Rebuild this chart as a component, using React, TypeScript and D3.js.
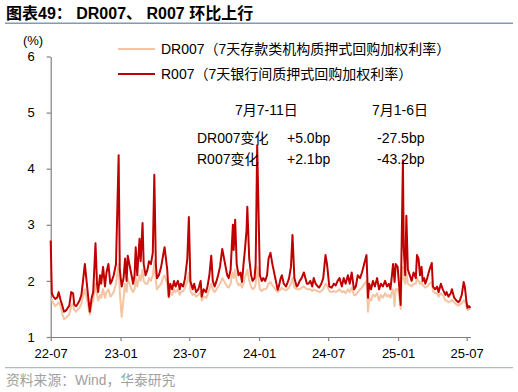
import React, { useEffect, useRef } from 'react';
import * as d3 from 'd3';

// data (%)
const dates = [
  '2022-07-01', '2022-07-04', '2022-07-08', '2022-07-13', '2022-07-18', '2022-07-22', '2022-07-27',
  '2022-08-01', '2022-08-05', '2022-08-10', '2022-08-15', '2022-08-19', '2022-08-24', '2022-08-29',
  '2022-09-01', '2022-09-06', '2022-09-09', '2022-09-15', '2022-09-20', '2022-09-29', '2022-10-08',
  '2022-10-12', '2022-10-17', '2022-10-21', '2022-10-27', '2022-10-31', '2022-11-03', '2022-11-08',
  '2022-11-11', '2022-11-16', '2022-11-21', '2022-11-25', '2022-11-30', '2022-12-05', '2022-12-09',
  '2022-12-14', '2022-12-20', '2022-12-27', '2022-12-30', '2023-01-04', '2023-01-09', '2023-01-13',
  '2023-01-17', '2023-01-20', '2023-01-30', '2023-02-03', '2023-02-07', '2023-02-10', '2023-02-14',
  '2023-02-20', '2023-02-23', '2023-02-28', '2023-03-03', '2023-03-08', '2023-03-13', '2023-03-17',
  '2023-03-22', '2023-03-27', '2023-03-31', '2023-04-04', '2023-04-07', '2023-04-12', '2023-04-18',
  '2023-04-23', '2023-04-27', '2023-05-04', '2023-05-08', '2023-05-12', '2023-05-17', '2023-05-22',
  '2023-05-26', '2023-06-01', '2023-06-06', '2023-06-09', '2023-06-15', '2023-06-20', '2023-06-26',
  '2023-06-30', '2023-07-04', '2023-07-10', '2023-07-14', '2023-07-19', '2023-07-25', '2023-07-31',
  '2023-08-03', '2023-08-08', '2023-08-14', '2023-08-18', '2023-08-23', '2023-08-28', '2023-09-01',
  '2023-09-06', '2023-09-11', '2023-09-15', '2023-09-20', '2023-09-26', '2023-10-09', '2023-10-13',
  '2023-10-18', '2023-10-21', '2023-10-24', '2023-10-26', '2023-10-30', '2023-11-03', '2023-11-08',
  '2023-11-13', '2023-11-17', '2023-11-21', '2023-11-24', '2023-11-29', '2023-12-01', '2023-12-06',
  '2023-12-11', '2023-12-15', '2023-12-20', '2023-12-23', '2023-12-27', '2024-01-03', '2024-01-08',
  '2024-01-12', '2024-01-17', '2024-01-22', '2024-01-26', '2024-01-31', '2024-02-05', '2024-02-19',
  '2024-02-22', '2024-02-27', '2024-03-01', '2024-03-06', '2024-03-12', '2024-03-15', '2024-03-20',
  '2024-03-25', '2024-03-29', '2024-04-03', '2024-04-09', '2024-04-12', '2024-04-17', '2024-04-22',
  '2024-04-28', '2024-05-06', '2024-05-10', '2024-05-15', '2024-05-20', '2024-05-24', '2024-05-29',
  '2024-06-04', '2024-06-07', '2024-06-13', '2024-06-18', '2024-06-24', '2024-06-28', '2024-07-04',
  '2024-07-10', '2024-07-16', '2024-07-21', '2024-07-26', '2024-07-31', '2024-08-06', '2024-08-11',
  '2024-08-16', '2024-08-22', '2024-08-27', '2024-09-01', '2024-09-07', '2024-09-12', '2024-09-17',
  '2024-09-23', '2024-09-28', '2024-10-10', '2024-10-14', '2024-10-17', '2024-10-22', '2024-10-27',
  '2024-11-01', '2024-11-07', '2024-11-12', '2024-11-17', '2024-11-22', '2024-11-28', '2024-12-03',
  '2024-12-08', '2024-12-12', '2024-12-16', '2024-12-19', '2024-12-23', '2024-12-26', '2024-12-31',
  '2025-01-03', '2025-01-08', '2025-01-10', '2025-01-14', '2025-01-16', '2025-01-20', '2025-01-23',
  '2025-01-27', '2025-02-06', '2025-02-11', '2025-02-17', '2025-02-20', '2025-02-24', '2025-02-28',
  '2025-03-04', '2025-03-07', '2025-03-11', '2025-03-14', '2025-03-19', '2025-03-25', '2025-03-31',
  '2025-04-03', '2025-04-09', '2025-04-14', '2025-04-18', '2025-04-24', '2025-04-29', '2025-05-06',
  '2025-05-09', '2025-05-14', '2025-05-20', '2025-05-23', '2025-05-29', '2025-06-04', '2025-06-09',
  '2025-06-13', '2025-06-18', '2025-06-23', '2025-06-26', '2025-06-30', '2025-07-03', '2025-07-07',
  '2025-07-11',
];

const r007 = [
  2.72, 1.78, 1.72, 1.68, 1.70, 1.80, 1.66,
  1.55, 1.45, 1.47, 1.52, 1.56, 1.80, 1.78,
  1.58, 1.55, 1.58, 1.65, 1.75, 2.30, 1.70,
  1.45, 1.70, 1.80, 2.67, 1.95, 1.80, 2.10,
  1.95, 2.25, 1.90, 2.15, 2.30, 1.95, 2.00,
  2.10, 2.30, 4.24, 2.20, 1.90, 2.05, 2.40,
  2.00, 2.45, 2.10, 1.95, 2.10, 2.60, 2.10,
  2.75, 2.35, 3.03, 2.30, 2.10, 2.20, 2.35,
  2.30, 2.50, 3.89, 2.30, 2.05, 2.10, 2.25,
  2.45, 2.60, 2.20, 1.72, 1.95, 1.85, 2.00,
  1.90, 2.00, 1.85, 1.95, 1.90, 2.05, 2.40,
  3.14, 2.00, 1.85, 1.95, 1.80, 1.85, 2.00,
  1.72, 1.85, 1.80, 1.90, 2.10, 2.45, 2.00,
  1.90, 2.00, 2.10, 2.25, 2.57, 2.10, 2.05,
  2.20, 2.60, 3.00, 2.55, 3.09, 2.30, 2.10,
  2.15, 1.98, 2.30, 2.50, 2.90, 3.32, 2.40,
  2.10, 2.00, 2.05, 2.30, 4.42, 2.10, 2.00,
  2.05, 2.00, 2.10, 2.40, 2.50, 2.30, 1.84,
  1.90, 2.05, 2.10, 1.95, 1.90, 1.95, 2.05,
  2.25, 2.82, 2.05, 1.90, 1.92, 2.00, 2.05,
  2.15, 1.95, 1.95, 2.00, 1.90, 2.05, 1.95,
  1.90, 1.88, 1.95, 2.05, 2.46, 2.30, 1.90,
  1.88, 1.95, 1.92, 2.00, 2.05, 1.90, 2.05,
  1.95, 2.10, 1.95, 2.15, 1.85, 1.90, 2.10,
  2.05, 2.15, 2.46, 1.70, 1.95, 1.85, 2.00,
  1.90, 2.05, 1.85, 1.95, 1.90, 2.00, 1.90,
  1.95, 1.85, 2.10, 2.30, 1.98, 2.30, 2.25,
  2.00, 1.57, 2.40, 4.15, 2.60, 2.10, 3.16,
  2.20, 2.00, 2.15, 2.05, 2.46, 2.40, 2.10,
  2.25, 2.00, 2.05, 1.95, 2.05, 2.20, 2.32,
  1.90, 1.85, 1.90, 1.80, 1.95, 1.85, 1.75,
  1.80, 1.72, 1.78, 1.85, 1.70, 1.65, 1.62,
  1.65, 1.75, 1.98, 1.90, 1.65, 1.52, 1.55,
  1.52,
];

const dr007 = [
  1.68, 1.66, 1.60, 1.55, 1.58, 1.62, 1.55,
  1.40, 1.32, 1.34, 1.38, 1.40, 1.55, 1.60,
  1.48, 1.45, 1.48, 1.52, 1.60, 1.85, 1.55,
  1.40, 1.58, 1.65, 1.95, 1.75, 1.65, 1.75,
  1.70, 1.85, 1.70, 1.80, 1.85, 1.72, 1.75,
  1.80, 1.95, 2.30, 1.80, 1.36, 1.70, 1.95,
  1.80, 2.05, 1.85, 1.80, 1.85, 2.05, 1.90,
  2.10, 2.00, 2.20, 2.00, 1.95, 1.95, 2.05,
  2.00, 2.10, 2.35, 2.00, 1.85, 1.90, 1.95,
  2.05, 2.10, 1.95, 1.70, 1.80, 1.75, 1.85,
  1.80, 1.85, 1.75, 1.80, 1.82, 1.88, 2.00,
  2.15, 1.82, 1.75, 1.78, 1.72, 1.75, 1.80,
  1.65, 1.72, 1.70, 1.75, 1.85, 1.95, 1.85,
  1.80, 1.85, 1.90, 1.95, 2.05, 1.90, 1.88,
  1.95, 2.10, 2.15, 2.05, 2.20, 2.00, 1.92,
  1.95, 1.88, 1.95, 2.05, 2.15, 2.20, 2.00,
  1.90, 1.85, 1.88, 1.95, 2.25, 1.85, 1.82,
  1.85, 1.85, 1.88, 1.95, 1.98, 1.92, 1.80,
  1.82, 1.85, 1.88, 1.85, 1.83, 1.85, 1.88,
  1.95, 2.05, 1.88, 1.85, 1.85, 1.85, 1.88,
  1.90, 1.85, 1.85, 1.85, 1.82, 1.85, 1.83,
  1.82, 1.80, 1.82, 1.85, 1.95, 1.92, 1.82,
  1.80, 1.82, 1.80, 1.82, 1.85, 1.80, 1.82,
  1.78, 1.85, 1.80, 1.88, 1.75, 1.75, 1.80,
  1.85, 1.88, 2.00, 1.45, 1.70, 1.65, 1.75,
  1.72, 1.78, 1.65, 1.75, 1.70, 1.78, 1.72,
  1.75, 1.70, 1.80, 1.85, 1.55, 1.85, 1.85,
  1.80, 1.50, 1.95, 2.25, 2.05, 1.95, 2.15,
  1.95, 1.90, 1.95, 1.95, 2.05, 2.00, 1.95,
  1.98, 1.92, 1.90, 1.88, 1.90, 1.95, 1.98,
  1.82, 1.78, 1.78, 1.72, 1.78, 1.75, 1.65,
  1.65, 1.62, 1.64, 1.66, 1.62, 1.58, 1.56,
  1.58, 1.60, 1.65, 1.65, 1.55, 1.48, 1.50,
  1.50,
];

const yTicks = [1, 2, 3, 4, 5, 6];
const seriesNames = ['DR007（7天存款类机构质押式回购加权利率）', 'R007（7天银行间质押式回购加权利率）'];
const periodLabels = ['7月7-11日', '7月1-6日'];
const rowLabels = ['DR007变化', 'R007变化'];
const changes = [
  ['+5.0bp', '-27.5bp'],
  ['+2.1bp', '-43.2bp'],
];

const W = 518;
const H = 392;
const FONT = '"Liberation Sans", Arial, "Noto Sans CJK SC", sans-serif';
const DR_COLOR = '#F5C4A2';
const R_COLOR = '#C00000';

const parse = d3.timeParse('%Y-%m-%d');

export default function App() {
  const xAxisRef = useRef<SVGGElement | null>(null);
  const yAxisRef = useRef<SVGGElement | null>(null);

  const x = d3
    .scaleTime()
    .domain([parse('2022-07-01')!, parse('2025-07-11')!])
    .range([50.7, 470.5]);
  const y = d3.scaleLinear().domain([1, 6]).range([337, 56.5]);

  const rows = dates.map((d, i) => ({ date: parse(d)!, r: r007[i], dr: dr007[i] }));
  const lineR = d3
    .line<(typeof rows)[number]>()
    .x((d) => x(d.date))
    .y((d) => y(d.r));
  const lineDR = d3
    .line<(typeof rows)[number]>()
    .x((d) => x(d.date))
    .y((d) => y(d.dr));

  useEffect(() => {
    if (!xAxisRef.current || !yAxisRef.current) return;
    const gx = d3.select(xAxisRef.current);
    gx.selectAll('*').remove();
    gx.call(
      d3
        .axisBottom(x)
        .ticks(d3.timeMonth.every(6)!)
        .tickFormat((d) => d3.timeFormat('%y-%m')(d as Date))
        .tickSize(4)
        .tickPadding(8)
        .tickSizeOuter(0)
    );
    const gy = d3.select(yAxisRef.current);
    gy.selectAll('*').remove();
    gy.call(d3.axisLeft(y).tickValues(yTicks).tickFormat(d3.format('d')).tickSize(4).tickPadding(12).tickSizeOuter(0));
    [gx, gy].forEach((g) => {
      g.select('.domain').attr('stroke', '#808080').attr('stroke-width', 1.2);
      g.selectAll('.tick line').attr('stroke', '#808080').attr('stroke-width', 1.2);
      g.selectAll('.tick text').attr('fill', '#000').style('font-size', '13px').style('font-family', FONT);
    });
  });

  return (
    <svg width={W} height={H} style={{ position: 'absolute', left: 0, top: 0, background: '#fff' }} fontFamily={FONT}>
      <text x={6} y={18.5} fontSize={16} fontWeight="bold" fill="#000">
        图表49： DR007、 R007 环比上行
      </text>
      <line x1={5} x2={513} y1={23.3} y2={23.3} stroke="#7F9BB5" strokeWidth={1.5} />

      <text x={33} y={44.5} fontSize={13} textAnchor="middle">(%)</text>

      <g ref={yAxisRef} transform="translate(50.7,0)" />
      <g ref={xAxisRef} transform="translate(0,337)" />

      <path d={lineDR(rows) ?? ''} fill="none" stroke={DR_COLOR} strokeWidth={2} strokeLinejoin="round" />
      <path d={lineR(rows) ?? ''} fill="none" stroke={R_COLOR} strokeWidth={2} strokeLinejoin="round" />

      {seriesNames.map((name, i) => (
        <g key={name} transform={`translate(0,${49 + i * 25})`}>
          <line x1={118} x2={155} stroke={i === 0 ? DR_COLOR : R_COLOR} strokeWidth={2} />
          <text x={161} y={4.8} fontSize={14} fill="#000">{name}</text>
        </g>
      ))}

      {periodLabels.map((p, i) => (
        <text key={p} x={i === 0 ? 235 : 372} y={115} fontSize={14} fill="#000">{p}</text>
      ))}
      {rowLabels.map((label, r) => (
        <g key={label} transform={`translate(0,${143 + r * 21})`}>
          <text x={197} fontSize={14} fill="#000">{label}</text>
          {changes[r].map((c, j) => (
            <text key={j} x={j === 0 ? 287 : 377} fontSize={14} fill="#000">{c}</text>
          ))}
        </g>
      ))}

      <line x1={5} x2={513} y1={367.7} y2={367.7} stroke="#A9BCCF" strokeWidth={1.2} />
      <text x={6} y={385} fontSize={13.8} fill="#A0A0A0">资料来源：Wind，华泰研究</text>
    </svg>
  );
}
